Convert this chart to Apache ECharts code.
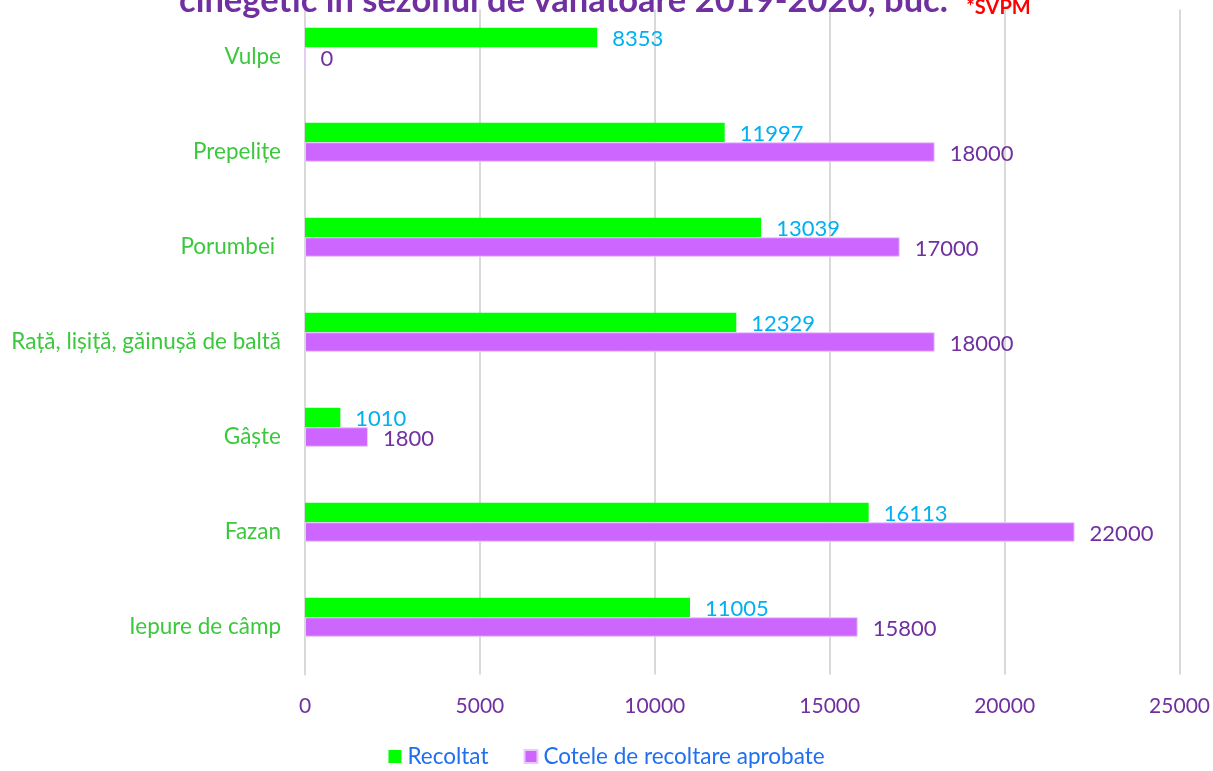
<!DOCTYPE html>
<html><head><meta charset="utf-8">
<script src="https://cdn.jsdelivr.net/npm/echarts@6/dist/echarts.min.js"></script>
<style>html,body{margin:0;padding:0;background:#fff}#c{width:1213px;height:771px}</style>
</head><body><div id="c"></div>
<script>
const categories = ['Vulpe', 'Prepelițe', 'Porumbei ', 'Rață, lișiță, găinușă de baltă', 'Gâște', 'Fazan', 'Iepure de câmp'];
const recoltat = [8353, 11997, 13039, 12329, 1010, 16113, 11005];
const cotele = [0, 18000, 17000, 18000, 1800, 22000, 15800];
const xTicks = [0, 5000, 10000, 15000, 20000, 25000];
const titleText = 'cinegetic în sezonul de vânătoare 2019-2020, buc.';
const noteText = '*SVPM';

const FONT = 'Lato, "Open Sans", sans-serif';
const chart = echarts.init(document.getElementById('c'));
chart.setOption({
  animation: false,
  textStyle: { fontFamily: FONT },
  title: {
    text: '{a|' + titleText + '} {b|' + noteText + '}',
    left: 174,
    top: -22,
    textStyle: {
      rich: {
        a: { fontFamily: FONT, fontWeight: 'bold', fontSize: 34.5, color: '#7030A0' },
        b: { fontFamily: FONT, fontSize: 20, color: '#FF0000', verticalAlign: 'bottom', padding: [0, 0, 0, 14] }
      }
    }
  },
  grid: { left: 305, right: 33, top: 9.5, bottom: 96.5 },
  legend: {
    bottom: -2,
    left: 'center',
    itemWidth: 13,
    itemHeight: 13,
    itemGap: 35,
    icon: 'rect',
    data: ['Recoltat', 'Cotele de recoltare aprobate'],
    textStyle: { fontFamily: FONT, fontSize: 22.5, color: '#1F6FEF', padding: [0, 0, 0, 1] }
  },
  xAxis: {
    type: 'value',
    min: xTicks[0],
    max: xTicks[xTicks.length - 1],
    interval: xTicks[1] - xTicks[0],
    axisLine: { show: false },
    axisTick: { show: false },
    splitLine: { show: true, lineStyle: { color: '#D9D9D9', width: 2 } },
    axisLabel: { fontFamily: FONT, fontSize: 21, color: '#7030A0', margin: 21, formatter: v => String(v) }
  },
  yAxis: {
    type: 'category',
    inverse: true,
    data: categories,
    axisLine: { show: true, lineStyle: { color: '#D9D9D9', width: 2 } },
    axisTick: { show: false },
    axisLabel: { fontFamily: FONT, fontSize: 22.5, color: '#3CC83C', margin: 24 }
  },
  series: [
    {
      name: 'Recoltat',
      type: 'bar',
      data: recoltat,
      barWidth: 19.5,
      barGap: '0%',
      itemStyle: { color: '#00FF00' },
      label: { show: true, position: 'right', distance: 15, fontFamily: FONT, fontSize: 22, color: '#00B0F0', offset: [0, 1] }
    },
    {
      name: 'Cotele de recoltare aprobate',
      type: 'bar',
      data: cotele,
      barWidth: 19.5,
      barGap: '0%',
      itemStyle: { color: '#CC66FF', borderColor: '#EBC8FF', borderWidth: 1 },
      label: { show: true, position: 'right', distance: 15, fontFamily: FONT, fontSize: 22, color: '#7030A0', offset: [0, 2] }
    },
    {
      name: '',
      type: 'bar',
      data: [],
      barWidth: 19.5,
      barGap: '0%'
    }
  ]
});
</script></body></html>
